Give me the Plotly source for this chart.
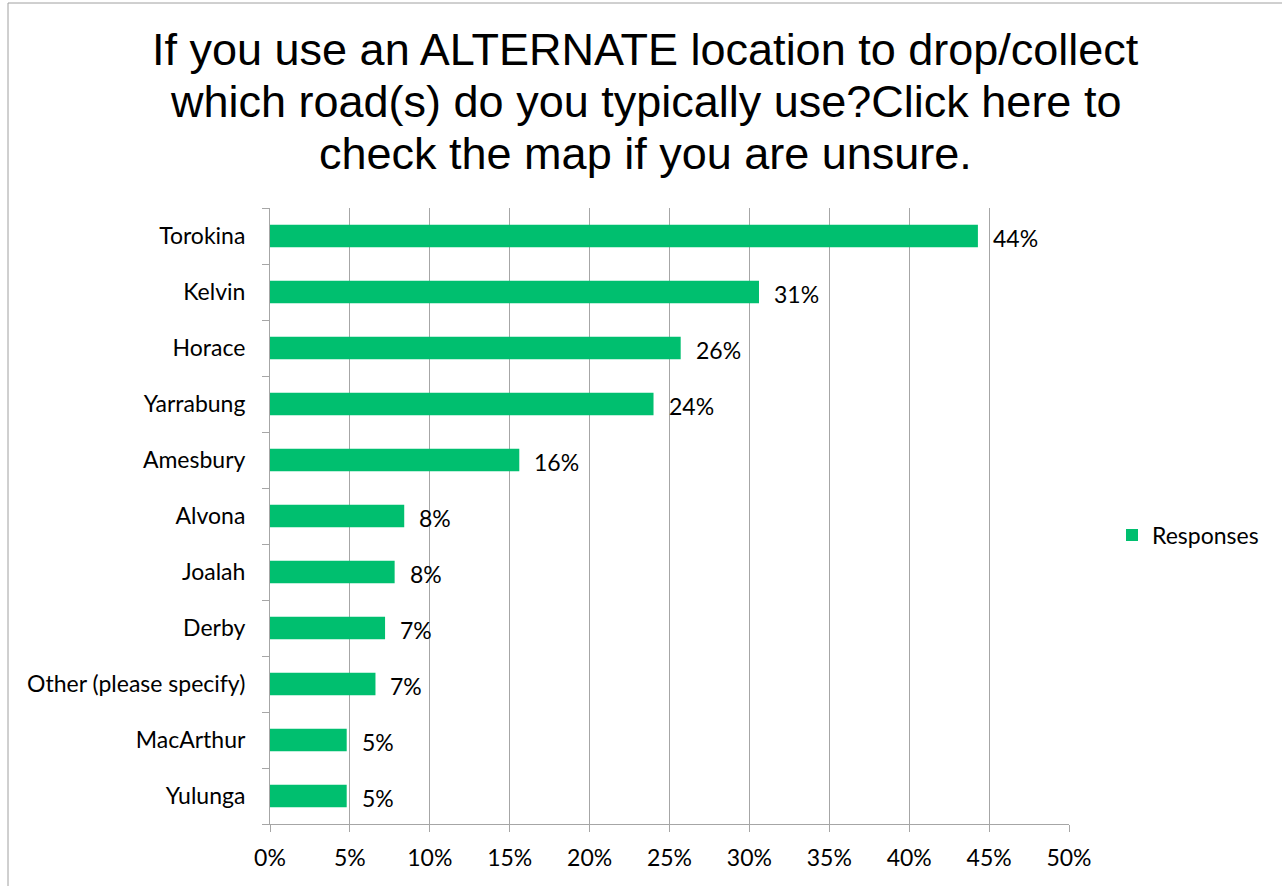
import plotly.graph_objects as go

categories = ["Torokina", "Kelvin", "Horace", "Yarrabung", "Amesbury", "Alvona",
              "Joalah", "Derby", "Other (please specify)", "MacArthur", "Yulunga"]
values = [0.443, 0.306, 0.257, 0.240, 0.156, 0.084, 0.078, 0.072, 0.066, 0.048, 0.048]
tick_vals = [0, 0.05, 0.10, 0.15, 0.20, 0.25, 0.30, 0.35, 0.40, 0.45, 0.50]
tick_text = ["0%", "5%", "10%", "15%", "20%", "25%", "30%", "35%", "40%", "45%", "50%"]
series_name = "Responses"
title_lines = ["If you use an ALTERNATE location to drop/collect",
               "which road(s) do you typically use?Click here to",
               "check the map if you are unsure."]

GREEN = "#00BF6F"
FONT = "Lato"
FS = 23
TFS = 45

W, H = 1282, 886
ML, MR, MT, MB = 270, 213, 208, 62
PW, PH = W - ML - MR, H - MT - MB


def py(px):
    return (H - MB - px) / PH


def pxx(px):
    return (px - ML) / PW


fig = go.Figure()
fig.add_trace(go.Bar(
    x=values, y=categories, orientation="h", name=series_name,
    marker=dict(color=GREEN, line=dict(width=0)),
    showlegend=True,
))

annotations = []
for c, v in zip(categories, values):
    annotations.append(dict(
        x=v, y=c, xref="x", yref="y", text=f"{round(v*100):.0f}%",
        showarrow=False, xanchor="left", yanchor="middle", xshift=13, yshift=-2,
        font=dict(family=FONT, size=FS, color="#000000"),
    ))

baselines = [64, 116, 168]
for line, b in zip(title_lines, baselines):
    annotations.append(dict(
        x=pxx(645.5), y=py(b - 0.33 * TFS), xref="paper", yref="paper",
        text=line, showarrow=False, xanchor="center", yanchor="middle",
        font=dict(family="Liberation Sans", size=TFS, color="#000000"),
    ))

fig.update_layout(
    width=W, height=H,
    margin=dict(l=ML, r=MR, t=MT, b=MB),
    paper_bgcolor="white", plot_bgcolor="white",
    bargap=0.6,
    xaxis=dict(range=[0, 0.5], tickvals=tick_vals, ticktext=tick_text,
               showgrid=True, gridcolor="#A6A6A6", gridwidth=1,
               showline=True, linecolor="#A6A6A6", linewidth=1,
               ticks="outside", ticklen=7, tickcolor="#A6A6A6",
               tickfont=dict(family=FONT, size=FS, color="#000000"),
               ticklabelstandoff=6,
               zeroline=False, fixedrange=True),
    yaxis=dict(categoryorder="array", categoryarray=categories[::-1],
               showline=True, linecolor="#A6A6A6", linewidth=1,
               ticks="outside", ticklen=7, tickcolor="#A6A6A6", tickson="boundaries",
               showgrid=False,
               tickfont=dict(family=FONT, size=FS, color="#000000"),
               ticklabelstandoff=19),
    legend=dict(x=pxx(1112), y=py(535), xanchor="left", yanchor="middle",
                font=dict(family=FONT, size=FS, color="#000000"),
                itemwidth=30),
    annotations=annotations,
    shapes=[dict(type="rect", xref="paper", yref="paper",
                 x0=pxx(8), x1=pxx(W + 5),
                 y0=py(H + 5), y1=py(3),
                 line=dict(color="#A0A0A0", width=1), fillcolor="rgba(0,0,0,0)")],
)

fig.write_html("out.html", config={"displayModeBar": False},
               post_script="document.body.style.margin='0';document.body.style.padding='0';")
